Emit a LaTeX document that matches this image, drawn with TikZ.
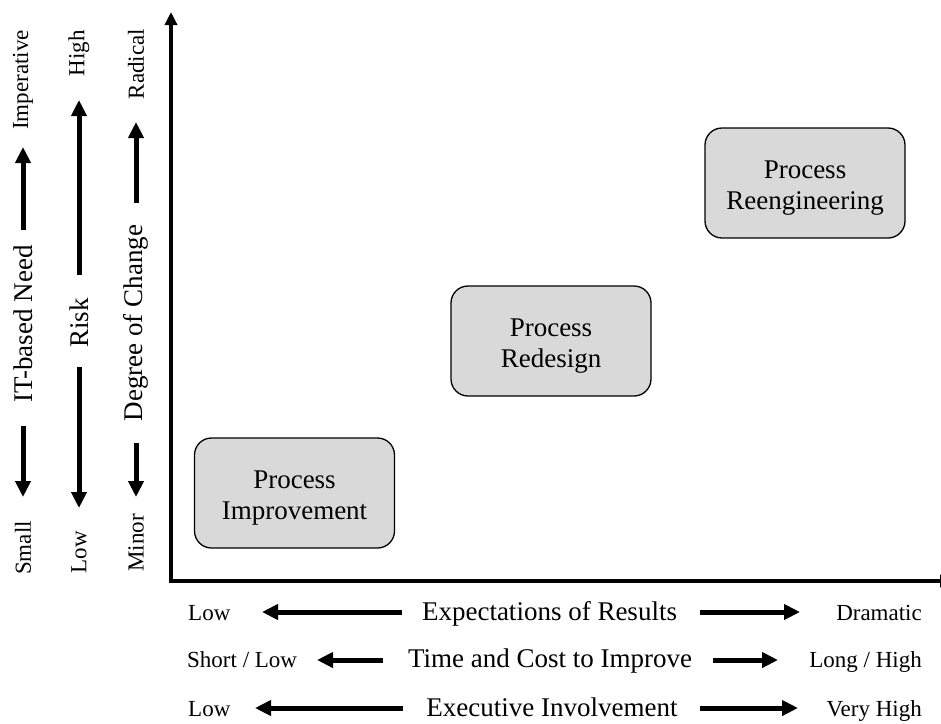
\documentclass[tikz,border=0pt]{standalone}
\usepackage{fontspec}
\setmainfont{Liberation Serif}
\usetikzlibrary{arrows.meta}
\newcommand{\boxstrut}{\rule{0pt}{28pt}}
\begin{document}
\begin{tikzpicture}[x=1pt,y=-1pt,
  axis/.style={line width=4pt, line join=miter,
    {Triangle[length=13pt,width=12pt]}-{Triangle[length=13pt,width=12pt]}},
  fat/.style={line width=5pt, -{Triangle[length=16pt,width=15pt]}},
  phase/.style={draw, line width=1.3pt, rounded corners=17pt, fill=black!15,
    minimum width=200pt, minimum height=110pt, align=center, inner sep=0pt,
    font=\fontsize{27}{31}\selectfont},
  big/.style={font=\fontsize{27}{30}\selectfont, inner sep=0pt},
  small/.style={font=\fontsize{23}{26}\selectfont, inner sep=0pt},
  vert/.style={rotate=90}
]
\useasboundingbox (0,0) rectangle (941,723);
\clip (0,0) rectangle (941,723);

% axes
\coordinate (ytop) at (171,12);
\coordinate (O) at (171,581);
\coordinate (xend) at (953,581);
\draw[axis] (ytop) -- (O) -- (xend);

% the three kinds of process change
\node[phase] (improve) at (294.5,493) {\boxstrut Process\\Improvement};
\node[phase] (redesign) at (551,341) {\boxstrut Process\\Redesign};
\node[phase] (reeng) at (805,183) {\boxstrut Process\\Reengineering};

% left scale 1: IT-based need
\node[small, vert] (imper) at (23,80) {Imperative};
\node[big, vert] (need) at (23,324) {IT-based Need};
\node[small, vert] (smallneed) at (23,548) {Small};
\coordinate (n1) at (23,230); \coordinate (n2) at (23,147);
\coordinate (n3) at (23,426); \coordinate (n4) at (23,497);
\draw[fat] (n1) -- (n2);
\draw[fat] (n3) -- (n4);

% left scale 2: risk
\node[small, vert] (high) at (79,53) {High};
\node[big, vert] (risk) at (79,323) {Risk};
\node[small, vert] (lowrisk) at (79,552) {Low};
\coordinate (r1) at (79,275); \coordinate (r2) at (79,100);
\coordinate (r3) at (79,367); \coordinate (r4) at (79,508);
\draw[fat] (r1) -- (r2);
\draw[fat] (r3) -- (r4);

% left scale 3: degree of change
\node[small, vert] (radical) at (136,64) {Radical};
\node[big, vert] (degree) at (136,323) {Degree of Change};
\node[small, vert] (minor) at (136,543) {Minor};
\coordinate (d1) at (136,203); \coordinate (d2) at (136,122);
\coordinate (d3) at (136,443); \coordinate (d4) at (136,497);
\draw[fat] (d1) -- (d2);
\draw[fat] (d3) -- (d4);

% bottom scale 1: expectations of results
\node[small, anchor=base west] (lowexp) at (188,620) {Low};
\node[big, anchor=base] (expect) at (549.5,620) {Expectations of Results};
\node[small, anchor=base east] (dramatic) at (922,620) {Dramatic};
\coordinate (e1) at (402,612); \coordinate (e2) at (262,612);
\coordinate (e3) at (700,612); \coordinate (e4) at (800,612);
\draw[fat] (e1) -- (e2);
\draw[fat] (e3) -- (e4);

% bottom scale 2: time and cost
\node[small, anchor=base west] (shortlow) at (187,667) {Short / Low};
\node[big, anchor=base] (timecost) at (550,667) {Time and Cost to Improve};
\node[small, anchor=base east] (longhigh) at (922,667) {Long / High};
\coordinate (t1) at (383,660); \coordinate (t2) at (317,660);
\coordinate (t3) at (713,660); \coordinate (t4) at (778,660);
\draw[fat] (t1) -- (t2);
\draw[fat] (t3) -- (t4);

% bottom scale 3: executive involvement
\node[small, anchor=base west] (lowexec) at (188,716) {Low};
\node[big, anchor=base] (exec) at (552,716) {Executive Involvement};
\node[small, anchor=base east] (veryhigh) at (922,716) {Very High};
\coordinate (x1) at (403,708); \coordinate (x2) at (255,708);
\coordinate (x3) at (700,708); \coordinate (x4) at (798,708);
\draw[fat] (x1) -- (x2);
\draw[fat] (x3) -- (x4);
\end{tikzpicture}
\end{document}
